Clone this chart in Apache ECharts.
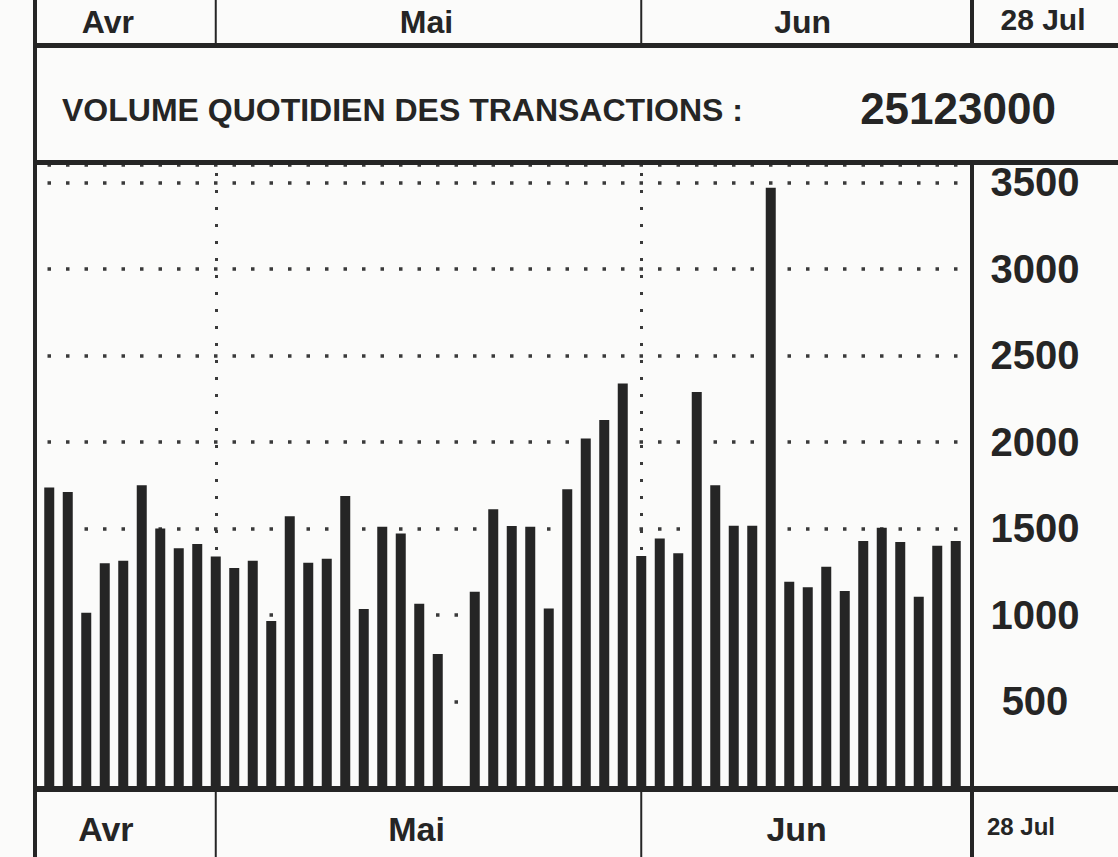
<!DOCTYPE html>
<html>
<head>
<meta charset="utf-8">
<script src="https://cdn.jsdelivr.net/npm/echarts@6/dist/echarts.min.js"></script>
<style>
html,body{margin:0;padding:0;background:#fbfbfa;}
#c{width:1118px;height:857px;}
</style>
</head>
<body>
<div id="c"></div>
<script>
// ---- data ----
const days = [];
for (let i = 1; i <= 50; i++) days.push('J' + i);
const volumes = [1737,1710,1013,1299,1313,1749,1500,1385,1410,1338,1271,1313,965,1570,1302,1325,1688,1034,1510,1470,1064,775,null,1134,1611,1514,1510,1037,1727,2019,2126,2338,1340,1442,1356,2289,1750,1515,1515,3468,1192,1160,1279,1138,1427,1504,1421,1105,1400,1427];
const yTicks = [500,1000,1500,2000,2500,3000,3500];
const monthStartIdx = [9, 32];          // first day of Mai, Jun
const monthNames = ['Avr', 'Mai', 'Jun', '28 Jul'];
const titleText = 'VOLUME QUOTIDIEN DES TRANSACTIONS :';
const totalText = '25123000';

// ---- layout ----
const W = 1118, H = 857;
const gridLeft = 40, gridRight = 965, gridTop = 165, gridBottom = 788;
const ink = '#252525';
const FONT = '"Liberation Sans", Arial, sans-serif';

const chart = echarts.init(document.getElementById('c'), null, {renderer: 'svg'});

const option = {
  backgroundColor: '#fbfbfa',
  animation: false,
  grid: {left: gridLeft, right: W - gridRight, top: gridTop, bottom: H - gridBottom},
  xAxis: {
    type: 'category', data: days, boundaryGap: true,
    axisLine: {show: false}, axisTick: {show: false}, axisLabel: {show: false},
    splitLine: {show: false}
  },
  yAxis: {
    type: 'value', position: 'right', min: 0, max: 3600, interval: 500,
    axisLine: {show: false}, axisTick: {show: false},
    axisLabel: {
      margin: 70, align: 'center',
      fontFamily: FONT, fontWeight: 'bold', fontSize: 40, color: ink,
      formatter: v => (yTicks.indexOf(v) >= 0 ? String(v) : '')
    },
    splitLine: {
      show: true,
      lineStyle: {color: '#3a3a3a', width: 3.5, type: [3.5, 15], dashOffset: 11}
    }
  },
  series: [{
    type: 'bar', data: volumes, barWidth: 10, z: 3,
    itemStyle: {color: ink},
    markLine: {
      silent: true, symbol: 'none', label: {show: false}, z: 1,
      lineStyle: {color: '#3a3a3a', width: 3, type: [3, 14], cap: 'butt'},
      data: monthStartIdx.map(i => ({xAxis: days[i]}))
    }
  }]
};
chart.setOption(option);

// frame + texts (drawn after layout so separators follow month positions)
const sepX = monthStartIdx.map(i => chart.convertToPixel({xAxisIndex: 0}, days[i]));
const rightX = 972;
const rect = (x, y, w, h) => ({type: 'rect', shape: {x, y, width: w, height: h}, style: {fill: ink}, z: 100, silent: true});
const txt = (t, x, y, size, align) => ({
  type: 'text', x, y, z: 100, silent: true,
  style: {text: t, fill: ink, font: 'bold ' + size + 'px ' + FONT, align: align || 'center', verticalAlign: 'middle'}
});
const headerC = [(gridLeft + sepX[0]) / 2 - 20, (sepX[0] + sepX[1]) / 2 - 2, (sepX[1] + rightX) / 2 - 4, (rightX + W) / 2 - 2];
const footerC = [(gridLeft + sepX[0]) / 2 - 22, (sepX[0] + sepX[1]) / 2 - 12, (sepX[1] + rightX) / 2 - 10, (rightX + W) / 2 - 24];

const g = [
  rect(33, 0, 4, H),
  rect(33, 43, W - 33, 5),
  rect(33, 160, W - 33, 5),
  rect(33, 786, W - 33, 6),
  rect(rightX - 2, 0, 4, 46),
  rect(rightX - 2, 163, 4, H - 163),
  txt(titleText, 62, 110, 32, 'left'),
  txt(totalText, 958, 108, 44, 'center')
];
sepX.forEach(x => {
  g.push(rect(x - 1, 0, 2, 46));
  g.push(rect(x - 1, 790, 2, H - 790));
});
monthNames.forEach((m, i) => {
  const small = i === 3;
  g.push(txt(m, headerC[i], small ? 19 : 22, small ? 30 : 32));
  g.push(txt(m, footerC[i], small ? 826 : 829, small ? 24 : 34));
});
chart.setOption({graphic: {elements: g}});
</script>
</body>
</html>
